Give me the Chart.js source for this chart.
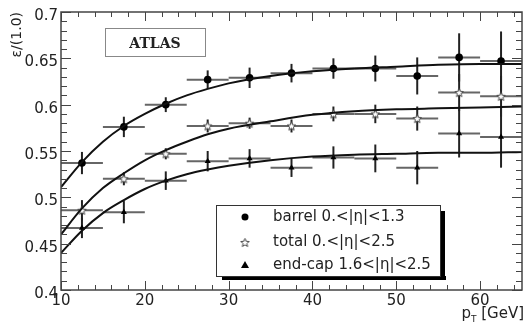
<!DOCTYPE html>
<html>
<head>
<meta charset="utf-8">
<script src="https://cdn.jsdelivr.net/npm/chart.js@4.4.1/dist/chart.umd.min.js"></script>
<style>
  html, body { margin: 0; padding: 0; background: #fff; }
  canvas { display: block; }
</style>
</head>
<body>
<canvas id="effChart" width="528" height="328"></canvas>
<script>
// bin centres (GeV), every bin is 5 GeV wide
const ptBins = [12.5, 17.5, 22.5, 27.5, 32.5, 37.5, 42.5, 47.5, 52.5, 57.5, 62.5];
const binHalf = 2.5;

const barrelEff = [0.537, 0.576, 0.600, 0.627, 0.629, 0.634, 0.639, 0.639, 0.631, 0.651, 0.647];
const barrelErr = [0.012, 0.011, 0.008, 0.010, 0.011, 0.010, 0.011, 0.014, 0.020, 0.026, 0.032];
const totalEff  = [0.486, 0.520, 0.547, 0.577, 0.580, 0.577, 0.590, 0.590, 0.585, 0.613, 0.609];
const totalErr  = [0.011, 0.007, 0.006, 0.007, 0.006, 0.007, 0.008, 0.010, 0.013, 0.020, 0.022];
const endcapEff = [0.467, 0.484, 0.518, 0.539, 0.542, 0.532, 0.543, 0.542, 0.532, 0.569, 0.565];
const endcapErr = [0.011, 0.012, 0.010, 0.011, 0.010, 0.010, 0.012, 0.015, 0.018, 0.026, 0.033];

// fitted curves
const fitPt     = [10, 12.5, 15, 17.5, 20, 22.5, 25, 27.5, 30, 35, 40, 45, 50, 55, 60, 65];
const barrelFit = [0.511, 0.538, 0.560, 0.577, 0.590, 0.601, 0.610, 0.617, 0.623, 0.631, 0.636, 0.639, 0.641, 0.643, 0.644, 0.644];
const totalFit  = [0.460, 0.488, 0.510, 0.526, 0.540, 0.551, 0.560, 0.568, 0.574, 0.582, 0.589, 0.593, 0.595, 0.596, 0.597, 0.598];
const endcapFit = [0.440, 0.464, 0.483, 0.497, 0.509, 0.518, 0.525, 0.530, 0.534, 0.540, 0.544, 0.546, 0.547, 0.548, 0.548, 0.549];

const xTicks = [10, 20, 30, 40, 50, 60];
const yTicks = [0.4, 0.45, 0.5, 0.55, 0.6, 0.65, 0.7];
const legendLabels = ['barrel 0.<|η|<1.3', 'total 0.<|η|<2.5', 'end-cap 1.6<|η|<2.5'];

const FONT = 'DejaVu Sans';
const INK = '#222';

// open five point star as point style
const starImg = document.createElement('canvas');
starImg.width = 11; starImg.height = 11;
(() => {
    const c = starImg.getContext('2d');
    c.beginPath();
    for (let k = 0; k < 10; k++) {
        const r = k % 2 ? 2.0 : 4.5;
        const a = -Math.PI / 2 + k * Math.PI / 5;
        c.lineTo(5.5 + r * Math.cos(a), 5.9 + r * Math.sin(a));
    }
    c.closePath();
    c.fillStyle = '#fff';
    c.fill();
    c.strokeStyle = '#444';
    c.lineWidth = 1;
    c.stroke();
})();

const toXY = (xs, ys) => xs.map((x, i) => ({x: x, y: ys[i]}));

// error bars under the markers
const errorBars = {
    id: 'errorBars',
    beforeDatasetsDraw(chart) {
        const {ctx, chartArea, scales: {x, y}} = chart;
        const sets = [[barrelEff, barrelErr], [totalEff, totalErr], [endcapEff, endcapErr]];
        ctx.save();
        ctx.beginPath();
        ctx.rect(chartArea.left, chartArea.top, chartArea.width, chartArea.height);
        ctx.clip();
        ctx.lineWidth = 2;
        sets.forEach(([vals, errs]) => {
            ptBins.forEach((pt, i) => {
                const py = y.getPixelForValue(vals[i]);
                const px = x.getPixelForValue(pt);
                ctx.strokeStyle = '#666';
                ctx.beginPath();
                ctx.moveTo(x.getPixelForValue(pt - binHalf), py);
                ctx.lineTo(x.getPixelForValue(pt + binHalf), py);
                ctx.stroke();
                ctx.strokeStyle = '#222';
                ctx.beginPath();
                ctx.moveTo(px, y.getPixelForValue(vals[i] - errs[i]));
                ctx.lineTo(px, y.getPixelForValue(vals[i] + errs[i]));
                ctx.stroke();
            });
        });
        ctx.restore();
    }
};

// frame, inner ticks, ATLAS box, legend, x title
const decorations = {
    id: 'decorations',
    afterDraw(chart) {
        const {ctx, chartArea: a, scales: {x, y}} = chart;
        ctx.save();
        ctx.strokeStyle = '#444';
        ctx.lineWidth = 1.5;
        ctx.strokeRect(a.left, a.top, a.right - a.left, a.bottom - a.top);

        ctx.lineWidth = 1;
        for (let v = 10; v <= 64; v += 2) {
            const px = Math.round(x.getPixelForValue(v)) + 0.5;
            const len = v % 10 === 0 ? 9 : 5;
            ctx.beginPath();
            ctx.moveTo(px, a.bottom); ctx.lineTo(px, a.bottom - len);
            ctx.moveTo(px, a.top); ctx.lineTo(px, a.top + len);
            ctx.stroke();
        }
        for (let k = 0; k <= 30; k++) {
            const py = Math.round(y.getPixelForValue(0.4 + k * 0.01)) + 0.5;
            const len = k % 5 === 0 ? 10 : 6;
            ctx.beginPath();
            ctx.moveTo(a.left, py); ctx.lineTo(a.left + len, py);
            ctx.moveTo(a.right, py); ctx.lineTo(a.right - len, py);
            ctx.stroke();
        }

        // ATLAS label
        ctx.strokeStyle = '#888';
        ctx.strokeRect(105.5, 28.5, 100, 28);
        ctx.fillStyle = INK;
        ctx.font = 'bold 14px "DejaVu Serif"';
        ctx.textAlign = 'center';
        ctx.textBaseline = 'middle';
        ctx.fillText('ATLAS', 155, 44);

        // legend
        const lx = 216, ly = 205, lw = 224, lh = 71;
        ctx.fillStyle = '#000';
        ctx.fillRect(lx + 6, ly + lh, lw, 4);
        ctx.fillRect(lx + lw, ly + 6, 5, lh - 2);
        ctx.fillStyle = '#fff';
        ctx.fillRect(lx, ly, lw, lh);
        ctx.strokeStyle = '#333';
        ctx.strokeRect(lx + 0.5, ly + 0.5, lw, lh);
        const rows = [217, 242.5, 265];
        ctx.fillStyle = '#000';
        ctx.beginPath();
        ctx.arc(245, rows[0], 3.5, 0, Math.PI * 2);
        ctx.fill();
        ctx.drawImage(starImg, 245 - 5.5, rows[1] - 5.5);
        ctx.beginPath();
        ctx.moveTo(245, rows[2] - 4); ctx.lineTo(249, rows[2] + 3); ctx.lineTo(241, rows[2] + 3);
        ctx.closePath();
        ctx.fill();
        ctx.fillStyle = INK;
        ctx.font = '15px "' + FONT + '"';
        ctx.textAlign = 'left';
        ctx.textBaseline = 'middle';
        legendLabels.forEach((t, i) => ctx.fillText(t, 273, rows[i]));

        // x axis title with subscript
        ctx.textBaseline = 'alphabetic';
        ctx.font = '15px "' + FONT + '"';
        const wP = ctx.measureText('p').width;
        const wRest = ctx.measureText(' [GeV]').width;
        ctx.font = '9px "' + FONT + '"';
        const wT = ctx.measureText('T').width;
        let tx = 524 - wP - wT - wRest;
        ctx.font = '15px "' + FONT + '"';
        ctx.fillText('p', tx, 318);
        ctx.font = '9px "' + FONT + '"';
        ctx.fillText('T', tx + wP, 322);
        ctx.font = '15px "' + FONT + '"';
        ctx.fillText(' [GeV]', tx + wP + wT, 318);
        ctx.restore();
    }
};

Chart.defaults.font.family = FONT;
Chart.defaults.font.size = 15;
Chart.defaults.color = INK;

new Chart(document.getElementById('effChart'), {
    type: 'scatter',
    data: {
        datasets: [
            {data: toXY(fitPt, barrelFit), type: 'line', borderColor: '#111', borderWidth: 2, pointRadius: 0, cubicInterpolationMode: 'monotone', fill: false},
            {data: toXY(fitPt, totalFit), type: 'line', borderColor: '#111', borderWidth: 2, pointRadius: 0, cubicInterpolationMode: 'monotone', fill: false},
            {data: toXY(fitPt, endcapFit), type: 'line', borderColor: '#111', borderWidth: 2, pointRadius: 0, cubicInterpolationMode: 'monotone', fill: false},
            {label: legendLabels[0], data: toXY(ptBins, barrelEff), pointStyle: 'circle', pointRadius: 3.8, backgroundColor: '#000', borderColor: '#000', borderWidth: 0},
            {label: legendLabels[1], data: toXY(ptBins, totalEff), pointStyle: starImg, pointRadius: 5},
            {label: legendLabels[2], data: toXY(ptBins, endcapEff), pointStyle: 'triangle', pointRadius: 3.5, backgroundColor: '#000', borderColor: '#000', borderWidth: 0}
        ]
    },
    options: {
        responsive: false,
        animation: false,
        devicePixelRatio: 1,
        layout: {padding: {top: 11, right: 5, left: 0, bottom: 0}},
        plugins: {legend: {display: false}, tooltip: {enabled: false}},
        scales: {
            x: {
                type: 'linear', min: 10, max: 65,
                grid: {display: false, drawTicks: false},
                border: {display: false},
                afterBuildTicks: s => { s.ticks = xTicks.map(v => ({value: v})); },
                afterFit: s => { s.height = 38; },
                ticks: {autoSkip: false, maxRotation: 0, padding: 2, callback: v => String(v)}
            },
            y: {
                type: 'linear', min: 0.4, max: 0.7,
                grid: {display: false, drawTicks: false},
                border: {display: false},
                afterBuildTicks: s => { s.ticks = yTicks.map(v => ({value: v})); },
                afterFit: s => { s.width = 61; },
                ticks: {autoSkip: false, padding: 3, labelOffset: 4, callback: v => String(v)},
                title: {display: true, text: 'ε/(1.0)', align: 'end', font: {size: 14}, padding: {top: 9, bottom: 0}}
            }
        }
    },
    plugins: [errorBars, decorations]
});
</script>
</body>
</html>
